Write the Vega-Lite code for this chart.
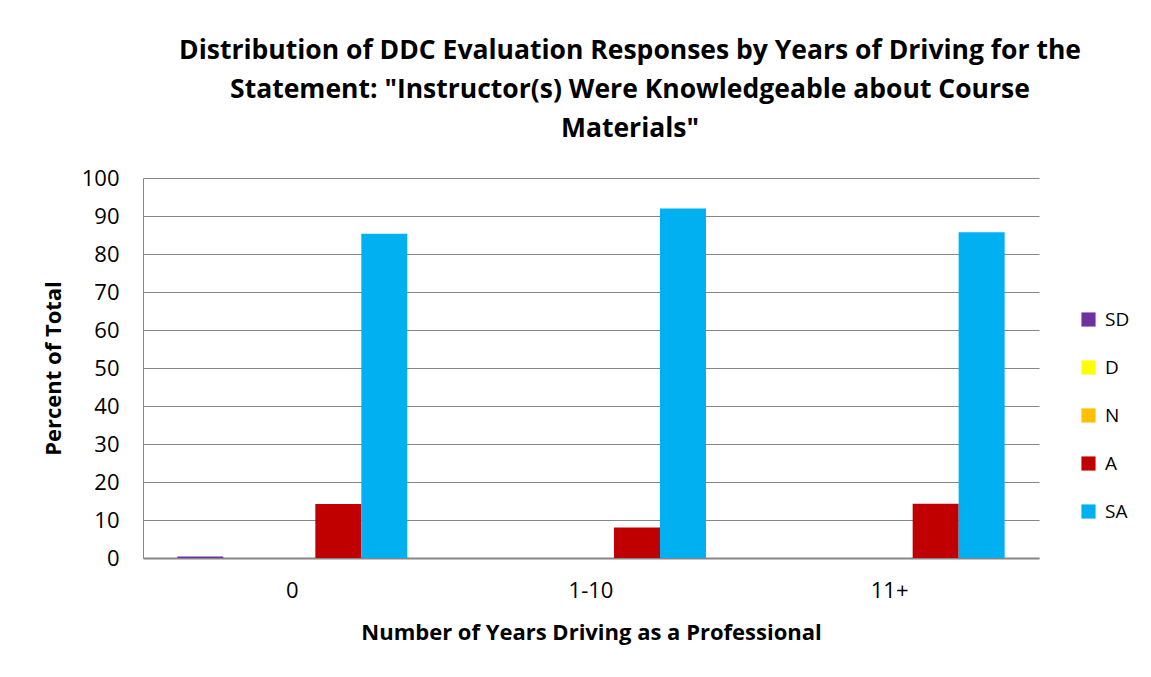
{
  "$schema": "https://vega.github.io/schema/vega-lite/v6.json",
  "autosize": "none",
  "width": 896,
  "height": 380,
  "padding": {"left": 143, "top": 178, "right": 112, "bottom": 119},
  "background": "white",
  "title": {
    "text": ["Distribution of DDC Evaluation Responses by Years of Driving for the", "Statement: \"Instructor(s) Were Knowledgeable about Course", "Materials\""],
    "font": "Open Sans",
    "fontSize": 26.5,
    "fontWeight": "bold",
    "color": "#000000",
    "anchor": "middle",
    "frame": "group",
    "dx": 39,
    "offset": 25,
    "lineHeight": 39
  },
  "data": {
    "values": [
      {"years": "0", "response": "SD", "pct": 0.4},
      {"years": "0", "response": "D", "pct": 0},
      {"years": "0", "response": "N", "pct": 0},
      {"years": "0", "response": "A", "pct": 14.2},
      {"years": "0", "response": "SA", "pct": 85.3},
      {"years": "1-10", "response": "SD", "pct": 0},
      {"years": "1-10", "response": "D", "pct": 0},
      {"years": "1-10", "response": "N", "pct": 0},
      {"years": "1-10", "response": "A", "pct": 8.0},
      {"years": "1-10", "response": "SA", "pct": 92.0},
      {"years": "11+", "response": "SD", "pct": 0},
      {"years": "11+", "response": "D", "pct": 0},
      {"years": "11+", "response": "N", "pct": 0},
      {"years": "11+", "response": "A", "pct": 14.3},
      {"years": "11+", "response": "SA", "pct": 85.7}
    ]
  },
  "mark": {"type": "bar"},
  "encoding": {
    "x": {
      "field": "years",
      "type": "nominal",
      "sort": ["0", "1-10", "11+"],
      "scale": {"paddingInner": 0.23, "paddingOuter": 0.115},
      "axis": {
        "title": "Number of Years Driving as a Professional",
        "titleFont": "Open Sans",
        "titleFontSize": 22,
        "titleFontWeight": "bold",
        "titleColor": "#000000",
        "titlePadding": 21,
        "labelFont": "Open Sans",
        "labelFontSize": 22,
        "labelColor": "#000000",
        "labelAngle": 0,
        "labelPadding": 22,
        "ticks": false,
        "domainColor": "#868686",
        "domainWidth": 2
      }
    },
    "xOffset": {
      "field": "response",
      "type": "nominal",
      "sort": ["SD", "D", "N", "A", "SA"],
      "scale": {"paddingInner": 0, "paddingOuter": 0}
    },
    "y": {
      "field": "pct",
      "type": "quantitative",
      "scale": {"domain": [0, 100], "nice": false},
      "axis": {
        "title": "Percent of Total",
        "titleFont": "Open Sans",
        "titleFontSize": 22,
        "titleFontWeight": "bold",
        "titleColor": "#000000",
        "titlePadding": 16,
        "values": [0, 10, 20, 30, 40, 50, 60, 70, 80, 90, 100],
        "labelFont": "Open Sans",
        "labelFontSize": 22,
        "labelColor": "#000000",
        "labelPadding": 24,
        "ticks": false,
        "grid": true,
        "gridColor": "#868686",
        "gridWidth": 1,
        "domainColor": "#868686",
        "domainWidth": 1
      }
    },
    "color": {
      "field": "response",
      "type": "nominal",
      "sort": ["SD", "D", "N", "A", "SA"],
      "scale": {"domain": ["SD", "D", "N", "A", "SA"], "range": ["#7030A0", "#FFFF00", "#FFC000", "#C00000", "#00B0F0"]},
      "legend": {
        "title": null,
        "orient": "none",
        "legendX": 936,
        "legendY": 132,
        "symbolType": "square",
        "symbolSize": 200,
        "symbolStrokeWidth": 0,
        "labelFont": "Open Sans",
        "labelFontSize": 19,
        "labelColor": "#000000",
        "labelOffset": 7,
        "rowPadding": 28
      }
    }
  },
  "config": {
    "view": {"stroke": null}
  }
}
